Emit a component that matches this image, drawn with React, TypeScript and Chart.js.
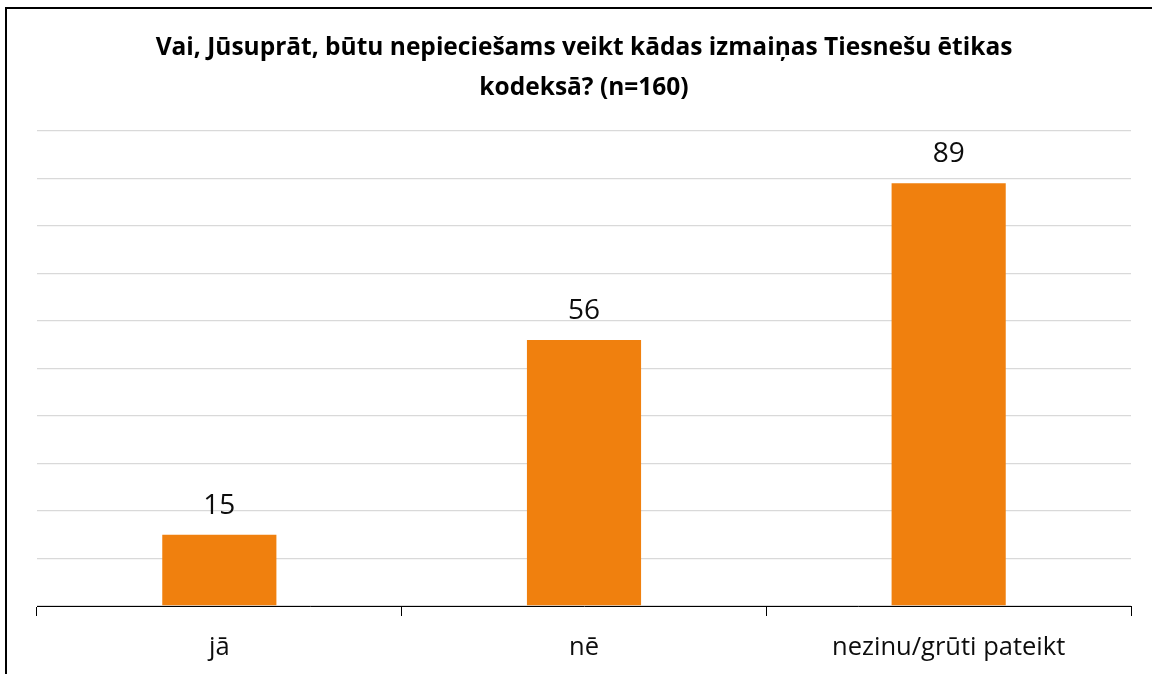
import React, { useEffect, useRef } from "react";
import { Chart, registerables } from "chart.js";

Chart.register(...registerables);

const categories = ["jā", "nē", "nezinu/grūti pateikt"];
const values = [15, 56, 89];
const titleLines = ["Vai, Jūsuprāt, būtu nepieciešams veikt kādas izmaiņas Tiesnešu ētikas", "kodeksā? (n=160)"];
const yMin = 0;
const yMax = 100;
const yStep = 10;

const valueLabels = {
  id: "valueLabels",
  afterDatasetsDraw(chart: any) {
    const ctx = chart.ctx;
    const meta = chart.getDatasetMeta(0);
    ctx.save();
    ctx.font = "28px 'Open Sans', sans-serif";
    ctx.fillStyle = "#0d0d0d";
    ctx.textAlign = "center";
    ctx.textBaseline = "middle";
    meta.data.forEach((bar: any, i: number) => {
      ctx.fillText(String(chart.data.datasets[0].data[i]), bar.x, bar.y - 29);
    });
    ctx.restore();
  },
};

export default function App() {
  const ref = useRef<HTMLCanvasElement>(null);
  useEffect(() => {
    const chart = new Chart(ref.current!, {
      type: "bar",
      data: {
        labels: categories,
        datasets: [
          {
            data: values,
            backgroundColor: "#f0800e",
            categoryPercentage: 1,
            barPercentage: 0.313,
          },
        ],
      },
      options: {
        animation: false,
        responsive: false,
        layout: { padding: { left: 37, right: 21, top: 0, bottom: 0 } },
        plugins: {
          legend: { display: false },
          tooltip: { enabled: false },
          title: {
            display: true,
            text: titleLines,
            color: "#000",
            font: { family: "'Open Sans', sans-serif", size: 24.5, weight: "bold", lineHeight: 1.63 },
            padding: { top: 28, bottom: 23 },
          },
        },
        scales: {
          x: {
            offset: true,
            afterFit: (scale: any) => {
              scale.height = 68;
            },
            grid: {
              offset: true,
              drawOnChartArea: false,
              drawTicks: true,
              tickLength: 10,
              color: "#000",
            },
            border: { display: true, color: "#000", width: 1 },
            ticks: {
              color: "#0d0d0d",
              padding: 16,
              font: { family: "'Open Sans', sans-serif", size: 25.5 },
            },
          },
          y: {
            display: true,
            min: yMin,
            max: yMax,
            ticks: { display: false, stepSize: yStep },
            grid: { color: "#d9d9d9", lineWidth: 1.3, drawTicks: false },
            border: { display: false },
          },
        },
      },
      plugins: [valueLabels],
    });
    return () => chart.destroy();
  }, []);
  return (
    <div style={{ position: "fixed", left: 0, top: 0, width: 1152, height: 674, overflow: "hidden", background: "#fff" }}>
      <canvas ref={ref} width={1152} height={674} style={{ position: "absolute", left: 0, top: 0 }} />
      <div
        style={{
          position: "absolute",
          left: 5,
          top: 7,
          width: 1300,
          height: 800,
          border: "2px solid #000",
          boxSizing: "border-box",
          pointerEvents: "none",
        }}
      />
    </div>
  );
}
